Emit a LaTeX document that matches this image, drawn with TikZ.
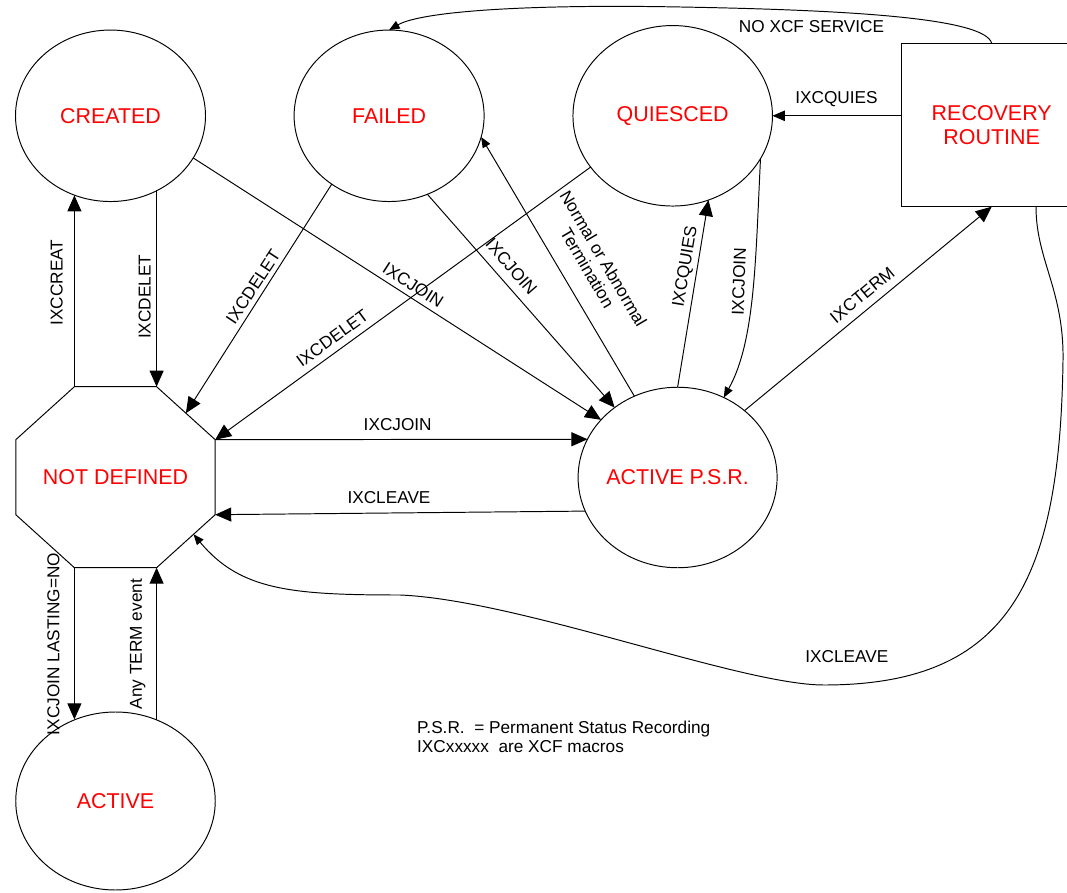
\documentclass[tikz,border=0pt]{standalone}
\usepackage{fontspec}
\setmainfont{Liberation Sans}
\usetikzlibrary{shapes.geometric,arrows.meta,calc}

\newcommand{\statefont}{\fontsize{12.2}{13.5}\selectfont}
\newcommand{\lblfont}{\fontsize{9.8}{10.6}\selectfont}

\tikzset{
  state/.style={draw, ellipse, inner sep=0pt, outer sep=0pt, text=red, font=\statefont},
  lbl/.style={font=\lblfont, inner sep=0pt, align=center},
  arr/.style={-{Triangle[length=0.32cm,width=0.28cm]}},
  marr/.style={-{Triangle[length=0.25cm,width=0.21cm]}},
  sarr/.style={-{Triangle[length=0.21cm,width=0.17cm]}},
}

\begin{document}
\begin{tikzpicture}[line width=0.55pt]
    \useasboundingbox (0,0) rectangle (21.34,17.84);
    \clip (0,0) rectangle (21.34,17.84);

    % Zustaende
    \node[state, minimum width=3.8cm, minimum height=3.43cm] (created) at (2.21,15.524) {CREATED};
    \node[state, minimum width=3.8cm, minimum height=3.43cm] (failed) at (7.782,15.524) {FAILED};
    \node[state, minimum width=3.99cm, minimum height=3.61cm] (quiesced) at (13.454,15.524) {QUIESCED};
    \node[state, minimum width=3.98cm, minimum height=3.61cm, inner xsep=-2pt] (psr) at (13.552,8.29) {ACTIVE P.S.R.};
    \node[state, minimum width=3.99cm, minimum height=3.56cm] (active) at (2.31,1.82) {ACTIVE};
    \node[draw, rectangle, inner sep=0pt, outer sep=0pt, minimum width=3.6cm, minimum height=3.268cm,
          text=red, font=\statefont, align=center] (recovery) at (19.834,15.34) {RECOVERY\\ROUTINE};

    % Achteck NOT DEFINED
    \node[inner sep=0pt, outer sep=0pt, minimum width=3.988cm, minimum height=3.62cm,
          text=red, font=\statefont] (notdef) at (2.31,8.296) {NOT DEFINED};
    \coordinate (ndTL) at ([xshift=-0.822cm]notdef.north);
    \coordinate (ndTR) at ([xshift=0.822cm]notdef.north);
    \coordinate (ndRT) at ([yshift=0.75cm]notdef.east);
    \coordinate (ndRB) at ([yshift=-0.75cm]notdef.east);
    \coordinate (ndBR) at ([xshift=0.822cm]notdef.south);
    \coordinate (ndBL) at ([xshift=-0.822cm]notdef.south);
    \coordinate (ndLB) at ([yshift=-0.75cm]notdef.west);
    \coordinate (ndLT) at ([yshift=0.75cm]notdef.west);
    \draw (ndTL) -- (ndTR) -- (ndRT) -- (ndRB) -- (ndBR) -- (ndBL) -- (ndLB) -- (ndLT) -- cycle;
    \coordinate (ndRTa) at ($(ndTR)!0.5!(ndRT)$);
    \coordinate (ndRBa) at ($(ndRB)!0.37!(ndBR)$);

    % CREATED <-> NOT DEFINED
    \draw[arr] (ndTL) -- (ndTL |- created.-114.45);
    \draw[arr] (ndTR |- created.-58.37) -- (ndTR);
    \node[lbl, rotate=90] (l-creat) at (1.136,12.19) {IXCCREAT};
    \node[lbl, rotate=90] (l-delet1) at (2.892,11.906) {IXCDELET};

    % nach ACTIVE P.S.R.
    \draw[arr] (created.-27.66) -- (psr.143.5);
    \node[lbl, rotate=-32.7] (l-join1) at (8.264,12.14) {IXCJOIN};
    \draw[arr] (failed.-64.4) -- (psr.132.9);
    \node[lbl, rotate=-48.9] (l-join2) at (10.228,12.506) {IXCJOIN};
    \draw[arr] (ndRT) -- (psr.157.6);
    \node[lbl] (l-join4) at (7.954,9.354) {IXCJOIN};
    \draw[sarr] (quiesced.-26.2) .. controls +(-0.1,-2.01) and +(0.63,1.13) .. (psr.60.5);
    \node[lbl, rotate=88] (l-join3) at (14.778,12.206) {IXCJOIN};

    % nach NOT DEFINED
    \draw[arr] (failed.-130.2) -- (ndRTa);
    \node[lbl, rotate=56.6] (l-delet2) at (5.062,12.106) {IXCDELET};
    \draw[arr] (quiesced.-148.7) -- (ndRT);
    \node[lbl, rotate=36.2] (l-delet3) at (6.646,11.074) {IXCDELET};
    \draw[arr] (psr.200.3) -- (ndRB);
    \node[lbl] (l-leave1) at (7.78,7.894) {IXCLEAVE};
    \draw[sarr] ([xshift=0.886cm]recovery.south) .. controls (20.72,12.64) and (21.28,12.04) .. (21.26,10.64)
        .. controls (21.2,6.24) and (20.2,4.14) .. (16.48,4.14)
        .. controls (14.8,4.14) and (10.4,5.84) .. (8.0,5.94)
        .. controls (5.8,5.94) and (4.8,6.04) .. (ndRBa);
    \node[lbl] (l-leave2) at (16.936,4.706) {IXCLEAVE};

    % von ACTIVE P.S.R.
    \draw[sarr] (psr.118.6) -- (failed.-13.1);
    \node[lbl, rotate=-59.6] (l-term) at (11.91,12.574) {Normal or Abnormal\\Termination};
    \draw[arr] (psr.north) -- (quiesced.-67.3);
    \node[lbl, rotate=80.5] (l-quies1) at (13.716,12.506) {IXCQUIES};
    \draw[arr] (psr.45.5) -- (recovery.south);
    \node[lbl, rotate=39.6] (l-xterm) at (17.244,11.94) {IXCTERM};

    % von RECOVERY ROUTINE
    \draw[marr] (recovery.west |- quiesced.east) -- (quiesced.east);
    \node[lbl] (l-quies2) at (16.73,15.86) {IXCQUIES};
    \draw[sarr] (recovery.north) .. controls (19.7,17.48) and (17.0,17.64) .. (13.6,17.7)
        .. controls (10.4,17.76) and (8.4,17.6) .. (failed.north);
    \node[lbl] (l-noxcf) at (16.23,17.306) {NO XCF SERVICE};

    % NOT DEFINED <-> ACTIVE
    \draw[arr] (ndBL) -- (ndBL |- active.116.9);
    \draw[arr] (ndBR |- active.63.1) -- (ndBR);
    \node[lbl, rotate=90] (l-lasting) at (1.068,4.96) {IXCJOIN LASTING=NO};
    \node[lbl, rotate=90] (l-any) at (2.754,4.96) {Any TERM event};

    % Legende
    \node[lbl, align=left, anchor=north west] (note) at (8.334,3.43)
        {P.S.R.\ \ = Permanent Status Recording\\IXCxxxxx\ \ are XCF macros};
\end{tikzpicture}
\end{document}
